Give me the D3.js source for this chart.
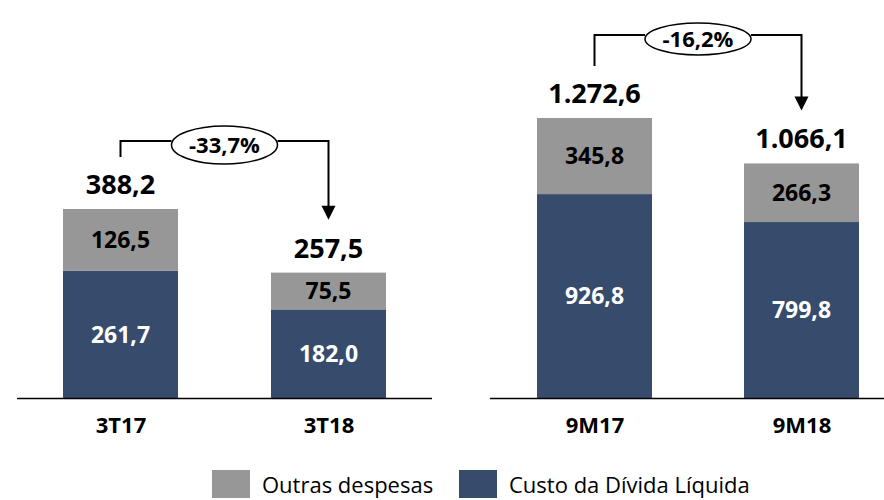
<!DOCTYPE html>
<html><head><meta charset="utf-8">
<script src="https://cdn.jsdelivr.net/npm/d3@7"></script>
<style>
html,body{margin:0;padding:0;background:#fff;}
text{font-family:"Open Sans",Lato,sans-serif;}
</style></head>
<body>
<svg id="chart" width="884" height="500"></svg>
<script>
// ---- data ----
const categories = ["3T17", "3T18", "9M17", "9M18"];
const outrasDespesas = [126.5, 75.5, 345.8, 266.3];
const custoDivida = [261.7, 182.0, 926.8, 799.8];
const totals = [388.2, 257.5, 1272.6, 1066.1];
const changes = ["-33,7%", "-16,2%"];
const seriesNames = ["Outras despesas", "Custo da Dívida Líquida"];
const colors = ["#979797", "#374c6d"];

const locale = d3.formatLocale({decimal: ",", thousands: ".", grouping: [3], currency: ["R$", ""]});
const fmt = locale.format(",.1f");

const svg = d3.select("#chart");
svg.append("rect").attr("width", 884).attr("height", 500).attr("fill", "#fff");

const baseY = 398;
const barW = 115;
const panels = [
  {cats: [0, 1], xRange: [120.5, 328.5], yTop: 209, axis: [17, 432], rise: 16, ry: 19, change: changes[0]},
  {cats: [2, 3], xRange: [594.5, 801.5], yTop: 118, axis: [490, 884], rise: 31, ry: 16, change: changes[1]}
];

panels.forEach(p => {
  const cats = p.cats.map(i => categories[i]);
  const x = d3.scalePoint().domain(cats).range(p.xRange);
  const maxT = d3.max(p.cats, i => totals[i]);
  const y = d3.scaleLinear().domain([0, maxT]).range([baseY, p.yTop]);
  const g = svg.append("g");

  p.cats.forEach(i => {
    const cx = x(categories[i]);
    const c = custoDivida[i], o = outrasDespesas[i];
    g.append("rect").attr("x", cx - barW / 2).attr("width", barW)
      .attr("y", y(c)).attr("height", y(0) - y(c)).attr("fill", colors[1]);
    g.append("rect").attr("x", cx - barW / 2).attr("width", barW)
      .attr("y", y(c + o)).attr("height", y(c) - y(c + o)).attr("fill", colors[0]);
    g.append("text").attr("x", cx).attr("y", (y(0) + y(c)) / 2).attr("dy", "0.36em")
      .attr("text-anchor", "middle").attr("font-size", 23).attr("font-weight", 700)
      .attr("fill", "#fff").text(fmt(c));
    g.append("text").attr("x", cx).attr("y", (y(c) + y(c + o)) / 2).attr("dy", "0.36em")
      .attr("text-anchor", "middle").attr("font-size", 23).attr("font-weight", 700)
      .attr("fill", "#000").text(fmt(o));
    g.append("text").attr("x", cx).attr("y", y(totals[i]) - 15)
      .attr("text-anchor", "middle").attr("font-size", 27).attr("font-weight", 700)
      .attr("fill", "#000").text(fmt(totals[i]));
  });

  g.append("line").attr("x1", p.axis[0]).attr("x2", p.axis[1])
    .attr("y1", baseY + 0.5).attr("y2", baseY + 0.5).attr("stroke", "#000").attr("stroke-width", 1.5);
  const axis = d3.axisBottom(x).tickSize(0).tickPadding(0);
  const ag = g.append("g").attr("transform", `translate(0,${baseY})`).call(axis);
  ag.select(".domain").remove();
  ag.selectAll("text").attr("y", 35).attr("dy", 0).attr("font-size", 22).attr("font-weight", 700)
    .attr("fill", "#000").style("font-family", "'Open Sans', sans-serif");

  // bracket
  const i0 = p.cats[0], i1 = p.cats[1];
  const x0 = x(categories[i0]), x1 = x(categories[i1]);
  const startY = y(totals[i0]) - 52;
  const lineY = startY - p.rise;
  const tipY = y(totals[i1]) - 53;
  const mid = (x0 + x1) / 2;
  const rx = 53, ry = p.ry, ecy = lineY + 4;
  g.append("path").attr("fill", "none").attr("stroke", "#000").attr("stroke-width", 2)
    .attr("d", `M${x0},${startY}V${lineY}H${mid - rx}`);
  g.append("path").attr("fill", "none").attr("stroke", "#000").attr("stroke-width", 2)
    .attr("d", `M${mid + rx},${lineY}H${x1}V${tipY - 12}`);
  g.append("path").attr("fill", "#000")
    .attr("d", `M${x1 - 7},${tipY - 14}L${x1 + 7},${tipY - 14}L${x1},${tipY}Z`);
  g.append("ellipse").attr("cx", mid).attr("cy", ecy).attr("rx", rx).attr("ry", ry)
    .attr("fill", "#fff").attr("stroke", "#000").attr("stroke-width", 1.5);
  g.append("text").attr("x", mid).attr("y", ecy).attr("dy", "0.36em")
    .attr("text-anchor", "middle").attr("font-size", 22).attr("font-weight", 700)
    .attr("fill", "#000").text(p.change);
});

// legend
const legendItems = [
  {name: seriesNames[0], color: colors[0], x: 212},
  {name: seriesNames[1], color: colors[1], x: 459}
];
const lg = svg.append("g");
legendItems.forEach(d => {
  lg.append("rect").attr("x", d.x).attr("y", 470).attr("width", 38).attr("height", 28).attr("fill", d.color);
  lg.append("text").attr("x", d.x + 50).attr("y", 493).attr("font-size", 22)
    .attr("fill", "#000").text(d.name);
});
</script>
</body></html>
